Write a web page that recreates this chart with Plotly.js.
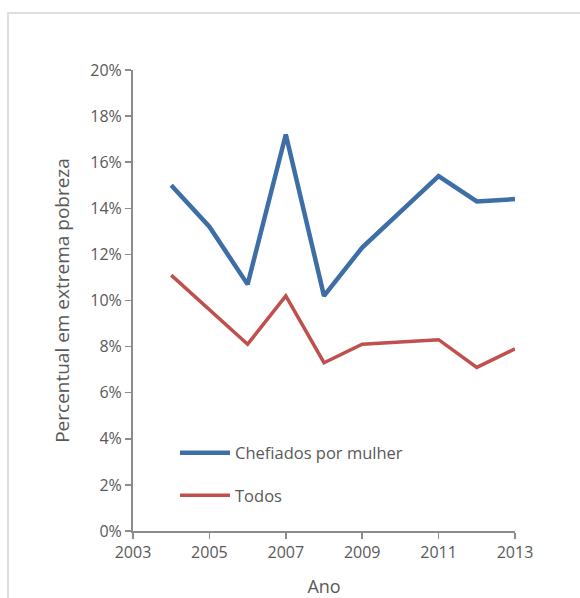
<!DOCTYPE html>
<html>
<head>
<meta charset="utf-8">
<script src="https://cdn.plot.ly/plotly-3.0.1.min.js"></script>
<style>
  html, body { margin: 0; padding: 0; background: #ffffff; }
  #frame { position: absolute; left: 7px; top: 12px; width: 573px; height: 586px;
           border-top: 2px solid #dedede; border-left: 2px solid #dedede; box-sizing: border-box; }
  #chart { position: absolute; left: 0; top: 0; width: 580px; height: 598px; }
</style>
</head>
<body>
<div id="frame"></div>
<div id="chart"></div>
<script>
const years = [2004, 2005, 2006, 2007, 2008, 2009, 2011, 2012, 2013];
const chefiadosPorMulher = [0.150, 0.132, 0.107, 0.172, 0.102, 0.123, 0.154, 0.143, 0.144];
const todos = [0.111, 0.096, 0.081, 0.102, 0.073, 0.081, 0.083, 0.071, 0.079];
const seriesNames = ['Chefiados por mulher', 'Todos'];
const xTicks = [2003, 2005, 2007, 2009, 2011, 2013];

const font = "Open Sans, Liberation Sans, sans-serif";
const gray = '#595959';

const traces = [
  { x: years, y: chefiadosPorMulher, name: seriesNames[0], type: 'scatter', mode: 'lines',
    legendgroup: 'a', line: { color: '#3e6ea6', width: 4.5 } },
  { x: years, y: todos, name: seriesNames[1], type: 'scatter', mode: 'lines',
    legendgroup: 'b', line: { color: '#c0504d', width: 3.5 } }
];

const layout = {
  width: 580, height: 598,
  margin: { l: 133, r: 65, t: 70, b: 67 },
  paper_bgcolor: 'rgba(0,0,0,0)',
  plot_bgcolor: 'rgba(0,0,0,0)',
  font: { family: font, color: gray, size: 14 },
  showlegend: true,
  legend: { x: 0.11, y: 0.207, xanchor: 'left', yanchor: 'top', bgcolor: 'rgba(0,0,0,0)',
            font: { size: 16.5, color: gray }, itemwidth: 50, traceorder: 'grouped', tracegroupgap: 18 },
  xaxis: {
    range: [2003, 2013], tickvals: xTicks, ticktext: xTicks.map(String),
    showgrid: false, zeroline: false, showline: true, linecolor: '#8c8c8c', linewidth: 2,
    ticks: 'outside', ticklen: 6, tickwidth: 1.5, tickcolor: '#8c8c8c',
    tickfont: { size: 16, color: gray },
    title: { text: 'Ano', font: { size: 18, color: gray }, standoff: 20 }
  },
  yaxis: {
    range: [0, 0.2], dtick: 0.02, tickformat: '.0%',
    showgrid: false, zeroline: false, showline: true, linecolor: '#8c8c8c', linewidth: 2,
    ticks: 'outside', ticklen: 6, tickwidth: 1.5, tickcolor: '#8c8c8c',
    tickfont: { size: 16, color: gray },
    title: { text: 'Percentual em extrema pobreza', font: { size: 19, color: gray }, standoff: 16 }
  }
};

Plotly.newPlot('chart', traces, layout, { displayModeBar: false, staticPlot: true });
</script>
</body>
</html>
